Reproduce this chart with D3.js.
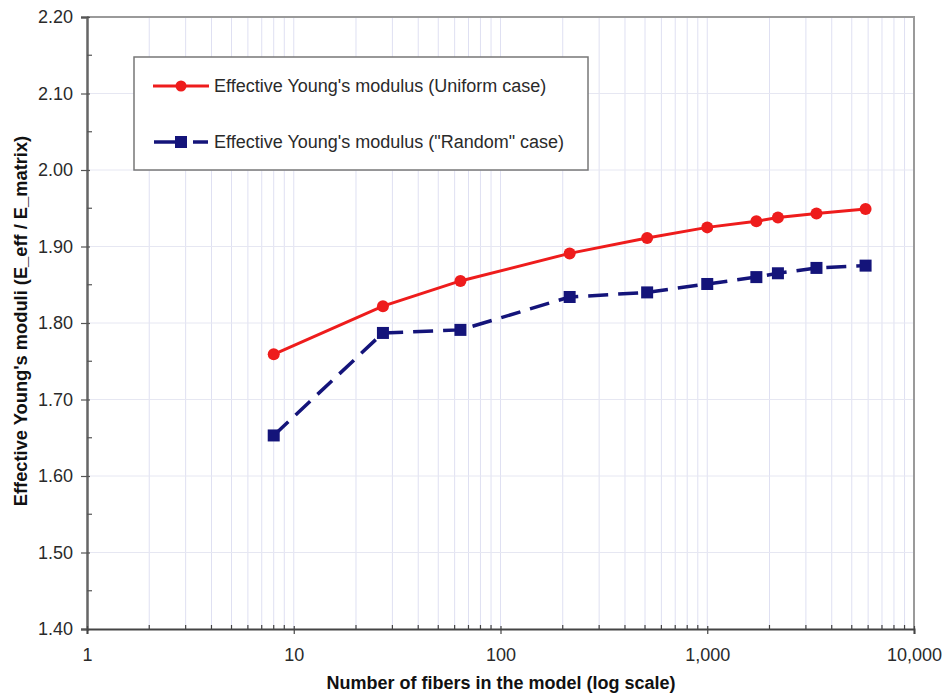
<!DOCTYPE html>
<html><head><meta charset="utf-8">
<script src="https://cdn.jsdelivr.net/npm/d3@7"></script>
<style>html,body{margin:0;padding:0;background:#fff;}</style>
</head><body>
<svg id="chart" width="945" height="695"></svg>
<script>
const fibers = [8, 27, 64, 216, 512, 1000, 1728, 2197, 3375, 5832];
const uniformE = [1.759, 1.822, 1.855, 1.891, 1.911, 1.925, 1.933, 1.938, 1.943, 1.949];
const randomE = [1.653, 1.787, 1.791, 1.834, 1.840, 1.851, 1.860, 1.865, 1.872, 1.875];
const xTickValues = [1, 10, 100, 1000, 10000];
const xTickLabels = ["1", "10", "100", "1,000", "10,000"];
const yTickValues = [1.40, 1.50, 1.60, 1.70, 1.80, 1.90, 2.00, 2.10, 2.20];
const seriesNames = ["Effective Young's modulus (Uniform case)", "Effective Young's modulus (\"Random\" case)"];
const xTitle = "Number of fibers in the model (log scale)";
const yTitle = "Effective Young's moduli (E_eff / E_matrix)";

const svg = d3.select("#chart");
const L = 87, R = 914, T = 17, B = 629;
const font = "'Liberation Sans', Arial, Helvetica, sans-serif";
const x = d3.scaleLog().domain([1, 10000]).range([L, R]);
const y = d3.scaleLinear().domain([1.4, 2.2]).range([B, T]);

// minor log values
const minorX = [];
for (let d = 1; d < 10000; d *= 10) for (let k = 2; k <= 9; k++) minorX.push(d * k);

// gridlines
const grid = svg.append("g");
grid.selectAll("line.vx").data(minorX.concat(xTickValues.slice(1, -1))).join("line")
  .attr("x1", d => x(d)).attr("x2", d => x(d)).attr("y1", T).attr("y2", B)
  .attr("stroke", "#dfe0f2").attr("stroke-width", 1);
grid.selectAll("line.hy").data(yTickValues.slice(1, -1)).join("line")
  .attr("x1", L).attr("x2", R).attr("y1", d => y(d)).attr("y2", d => y(d))
  .attr("stroke", "#e6e7f2").attr("stroke-width", 1);

// frame top/right
svg.append("path").attr("d", `M${L},${T}H${R}V${B}`).attr("fill", "none")
  .attr("stroke", "#9a9a9a").attr("stroke-width", 2);

// Y axis
const yAxis = d3.axisLeft(y).tickValues(yTickValues).tickFormat(d3.format(".2f")).tickSize(6).tickPadding(8);
const gy = svg.append("g").attr("transform", `translate(${L},0)`).call(yAxis);
gy.select(".domain").attr("stroke", "#666").attr("stroke-width", 2.5);
gy.selectAll(".tick line").attr("stroke", "#555").attr("stroke-width", 1.2).attr("x2", -6).attr("x1", 3);
gy.selectAll(".tick text").attr("font-family", font).attr("font-size", 18).attr("fill", "#2a2a2a");
// y minor ticks
const yMinor = d3.range(0, 8).map(i => 1.45 + i * 0.1);
svg.append("g").selectAll("line").data(yMinor).join("line")
  .attr("x1", L).attr("x2", L + 5).attr("y1", d => y(d)).attr("y2", d => y(d))
  .attr("stroke", "#555").attr("stroke-width", 1.2);

// X axis
const xAxis = d3.axisBottom(x).tickValues(xTickValues).tickFormat((d, i) => xTickLabels[i]).tickSize(5).tickPadding(14);
const gx = svg.append("g").attr("transform", `translate(0,${B})`).call(xAxis);
gx.select(".domain").attr("stroke", "#444").attr("stroke-width", 2);
gx.selectAll(".tick line").attr("stroke", "#444").attr("stroke-width", 1.2).attr("y1", -3);
gx.selectAll(".tick text").attr("font-family", font).attr("font-size", 18).attr("fill", "#2a2a2a");
svg.append("g").selectAll("line").data(minorX).join("line")
  .attr("x1", d => x(d)).attr("x2", d => x(d)).attr("y1", B - 4).attr("y2", B)
  .attr("stroke", "#444").attr("stroke-width", 1.2);

// titles
svg.append("text").attr("x", 501).attr("y", 689).attr("text-anchor", "middle")
  .attr("font-family", font).attr("font-size", 18).attr("font-weight", "bold").attr("fill", "#111").text(xTitle);
svg.append("text").attr("transform", "translate(27,321) rotate(-90)").attr("text-anchor", "middle")
  .attr("font-family", font).attr("font-size", 18.3).attr("font-weight", "bold").attr("fill", "#111").text(yTitle);

// series
const uData = fibers.map((f, i) => [f, uniformE[i]]);
const rData = fibers.map((f, i) => [f, randomE[i]]);
const line = d3.line().x(d => x(d[0])).y(d => y(d[1]));
const red = "#ee1c1c", blue = "#14147a";

svg.append("path").datum(rData).attr("d", line).attr("fill", "none")
  .attr("stroke", blue).attr("stroke-width", 3.5).attr("stroke-dasharray", "20,10");
svg.append("g").selectAll("rect").data(rData).join("rect")
  .attr("x", d => x(d[0]) - 6).attr("y", d => y(d[1]) - 6).attr("width", 12).attr("height", 12).attr("fill", blue);

svg.append("path").datum(uData).attr("d", line).attr("fill", "none")
  .attr("stroke", red).attr("stroke-width", 3);
svg.append("g").selectAll("circle").data(uData).join("circle")
  .attr("cx", d => x(d[0])).attr("cy", d => y(d[1])).attr("r", 6).attr("fill", red);

// legend
const lg = svg.append("g");
lg.append("rect").attr("x", 134).attr("y", 57).attr("width", 454).attr("height", 113)
  .attr("fill", "#fff").attr("stroke", "#777").attr("stroke-width", 1.5);
lg.append("line").attr("x1", 153).attr("x2", 209).attr("y1", 86).attr("y2", 86).attr("stroke", red).attr("stroke-width", 3);
lg.append("circle").attr("cx", 181).attr("cy", 86).attr("r", 5.5).attr("fill", red);
lg.append("line").attr("x1", 154).attr("x2", 186).attr("y1", 142).attr("y2", 142).attr("stroke", blue).attr("stroke-width", 3.5);
lg.append("line").attr("x1", 193).attr("x2", 208).attr("y1", 142).attr("y2", 142).attr("stroke", blue).attr("stroke-width", 3.5);
lg.append("rect").attr("x", 175).attr("y", 136).attr("width", 12).attr("height", 12).attr("fill", blue);
lg.selectAll("text").data(seriesNames).join("text")
  .attr("x", 214).attr("y", (d, i) => 92 + i * 56)
  .attr("font-family", font).attr("font-size", 18).attr("fill", "#2a2a2a").text(d => d);
</script>
</body></html>
